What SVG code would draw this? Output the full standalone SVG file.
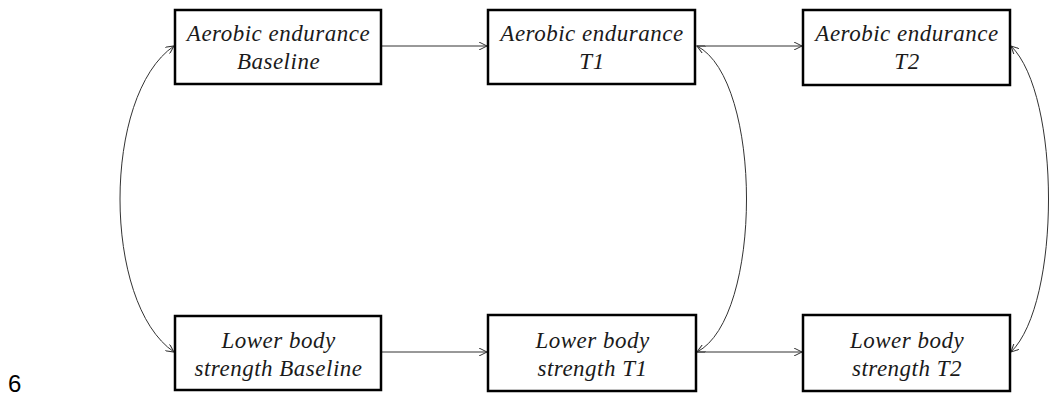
<svg xmlns="http://www.w3.org/2000/svg" width="1055" height="397" viewBox="0 0 1055 397">
<style>
.box{fill:#fff;stroke:#000;stroke-width:2.5}
.lbl{font-family:"Liberation Serif",serif;font-style:italic;font-size:23px;letter-spacing:0.5px;fill:#1a1a1a;text-anchor:middle}
.con{fill:none;stroke:#333;stroke-width:1}
</style>
<defs>
<marker id="ah" viewBox="0 0 8 8" refX="8" refY="4" markerWidth="8" markerHeight="8" markerUnits="userSpaceOnUse" orient="auto-start-reverse">
<path d="M0,0 L8,4 L0,8" fill="none" stroke="#333" stroke-width="1"/>
</marker>
</defs>
<rect width="1055" height="397" fill="#fff"/>
<g id="connectors">
<path class="con" d="M381,46 L487,46" marker-end="url(#ah)"/>
<path class="con" d="M696,46 L802,46" marker-end="url(#ah)"/>
<path class="con" d="M381,352 L487,352" marker-end="url(#ah)"/>
<path class="con" d="M697,352 L802,352" marker-end="url(#ah)"/>
<path class="con" d="M174,46 C102,95 102,303 174,352" marker-start="url(#ah)" marker-end="url(#ah)"/>
<path class="con" d="M697,46 C763,80 763,318 697,352" marker-start="url(#ah)" marker-end="url(#ah)"/>
<path class="con" d="M1011,46 C1061,95 1061,303 1011,352" marker-start="url(#ah)" marker-end="url(#ah)"/>
</g>
<g id="n1"><rect class="box" x="175" y="10" width="206" height="74"/><text class="lbl" x="278.5" y="41">Aerobic endurance</text><text class="lbl" x="278.5" y="69">Baseline</text></g>
<g id="n2"><rect class="box" x="488" y="10" width="207" height="74"/><text class="lbl" x="592" y="41">Aerobic endurance</text><text class="lbl" x="592" y="69">T1</text></g>
<g id="n3"><rect class="box" x="803" y="10" width="207" height="75"/><text class="lbl" x="907" y="41">Aerobic endurance</text><text class="lbl" x="907" y="69">T2</text></g>
<g id="n4"><rect class="box" x="175" y="316" width="206" height="74"/><text class="lbl" x="278.5" y="348">Lower body</text><text class="lbl" x="278.5" y="376">strength Baseline</text></g>
<g id="n5"><rect class="box" x="488" y="315" width="208" height="76"/><text class="lbl" x="592.5" y="348">Lower body</text><text class="lbl" x="592.5" y="376">strength T1</text></g>
<g id="n6"><rect class="box" x="803" y="315" width="207" height="76"/><text class="lbl" x="907" y="348">Lower body</text><text class="lbl" x="907" y="376">strength T2</text></g>
<text x="8" y="392" font-family="Liberation Sans, sans-serif" font-size="24" fill="#000">6</text>
</svg>
